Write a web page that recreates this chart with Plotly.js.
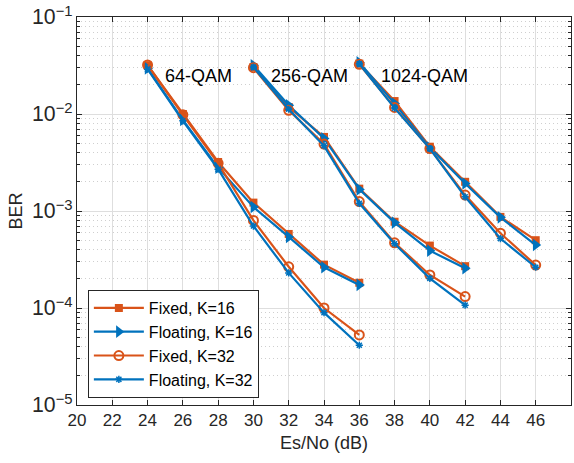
<!DOCTYPE html>
<html>
<head>
<meta charset="utf-8">
<script src="https://cdn.plot.ly/plotly-3.0.1.min.js"></script>
<style>html,body{margin:0;padding:0;background:#fff;}#chart{width:574px;height:463px;}</style>
</head>
<body>
<div id="chart"></div>
<script>
// Es/No (dB) per modulation
const snr64 = [24, 26, 28, 30, 32, 34, 36];
const snr256 = [30, 32, 34, 36, 38, 40, 42];
const snr1024 = [36, 38, 40, 42, 44, 46];

// 64-QAM
const fixed16_64 = [0.0318, 0.0100, 0.0032, 0.00122, 0.00058, 0.00028, 0.000182];
const float16_64 = [0.0296, 0.0087, 0.0028, 0.00110, 0.00054, 0.000263, 0.000173];
const fixed32_64 = [0.0320, 0.0098, 0.0031, 0.00080, 0.000266, 0.000100, 0.0000527];
const float32_64 = [0.0290, 0.0085, 0.0027, 0.00070, 0.000230, 0.0000895, 0.0000413];

// 256-QAM
const fixed16_256 = [0.0305, 0.0118, 0.0058, 0.00170, 0.000775, 0.00044, 0.00027];
const float16_256 = [0.0318, 0.0123, 0.0056, 0.00167, 0.000760, 0.00039, 0.000257];
const fixed32_256 = [0.0300, 0.0109, 0.0049, 0.00125, 0.00047, 0.000219, 0.000131];
const float32_256 = [0.0305, 0.0112, 0.0047, 0.00120, 0.00046, 0.000202, 0.000107];

// 1024-QAM
const fixed16_1024 = [0.0331, 0.0136, 0.0046, 0.00200, 0.00087, 0.00050];
const float16_1024 = [0.0340, 0.0128, 0.0045, 0.00192, 0.00086, 0.000446];
const fixed32_1024 = [0.0325, 0.0117, 0.0044, 0.00146, 0.00059, 0.000277];
const float32_1024 = [0.0330, 0.0115, 0.0044, 0.00140, 0.00052, 0.000263];

const seriesNames = ['Fixed, K=16', 'Floating, K=16', 'Fixed, K=32', 'Floating, K=32'];
const modLabels = ['64-QAM', '256-QAM', '1024-QAM'];
const modLabelX = [26.9, 33.15, 39.67];
const modLabelY = [0.0245, 0.0245, 0.0245];
const xTicks = [20, 22, 24, 26, 28, 30, 32, 34, 36, 38, 40, 42, 44, 46];

function joinGroups(groups) {
  const out = [];
  groups.forEach((g, i) => { if (i > 0) out.push(null); out.push(...g); });
  return out;
}
const xAll = joinGroups([snr64, snr256, snr1024]);

const orange = '#D95319';
const blue = '#0072BD';
const FONT = 'Liberation Sans, Arial, sans-serif';

const styles = [
  {color: orange, marker: {symbol: 'square', size: 8, color: orange}},
  {color: blue, marker: {symbol: 'triangle-right', size: 11, color: blue}},
  {color: orange, marker: {symbol: 'circle-open', size: 9, color: orange, line: {width: 2, color: orange}}},
  {color: blue, marker: {symbol: 'asterisk-open', size: 6, color: blue, line: {width: 1.5, color: blue}}}
];
const yData = [
  joinGroups([fixed16_64, fixed16_256, fixed16_1024]),
  joinGroups([float16_64, float16_256, float16_1024]),
  joinGroups([fixed32_64, fixed32_256, fixed32_1024]),
  joinGroups([float32_64, float32_256, float32_1024])
];

const traces = seriesNames.map((name, i) => ({
  x: xAll, y: yData[i], name: name, type: 'scatter', mode: 'lines+markers',
  connectgaps: false,
  line: {color: styles[i].color, width: 2.2},
  marker: styles[i].marker
}));

const annotations = modLabels.map((t, i) => ({
  x: modLabelX[i], y: Math.log10(modLabelY[i]), xref: 'x', yref: 'y',
  text: t, showarrow: false, font: {family: FONT, size: 18, color: '#000'}
}));

const axisCommon = {
  showline: true, linecolor: '#262626', linewidth: 1, mirror: 'ticks',
  ticks: 'inside', ticklen: 5, tickcolor: '#262626',
  showgrid: true, gridcolor: '#dedede', gridwidth: 1, zeroline: false,
  tickfont: {family: FONT, size: 17, color: '#262626'}
};

const layout = {
  width: 574, height: 463,
  margin: {l: 77, r: 3, t: 17, b: 58},
  paper_bgcolor: '#fff', plot_bgcolor: '#fff',
  showlegend: true,
  legend: {
    x: 0.022, y: 0.018, xanchor: 'left', yanchor: 'bottom',
    bgcolor: '#fff', bordercolor: '#262626', borderwidth: 1,
    font: {family: FONT, size: 16, color: '#000'},
    tracegroupgap: 0, itemwidth: 50
  },
  xaxis: Object.assign({}, axisCommon, {
    range: [20, 48], tickmode: 'array', tickvals: xTicks, ticktext: xTicks.map(String),
    title: {text: 'Es/No (dB)', font: {family: FONT, size: 18, color: '#262626'}, standoff: 6}
  }),
  yaxis: Object.assign({}, axisCommon, {
    type: 'log', range: [-5, -1], dtick: 1, exponentformat: 'power',
    minor: {dtick: 'D1', showgrid: true, griddash: '1px,3px', gridcolor: '#cfcfcf', ticks: 'inside', ticklen: 3, tickcolor: '#262626'},
    title: {text: 'BER', font: {family: FONT, size: 18, color: '#262626'}, standoff: 4}
  }),
  annotations: annotations
};

Plotly.newPlot('chart', traces, layout, {displayModeBar: false, staticPlot: true});
</script>
</body>
</html>
